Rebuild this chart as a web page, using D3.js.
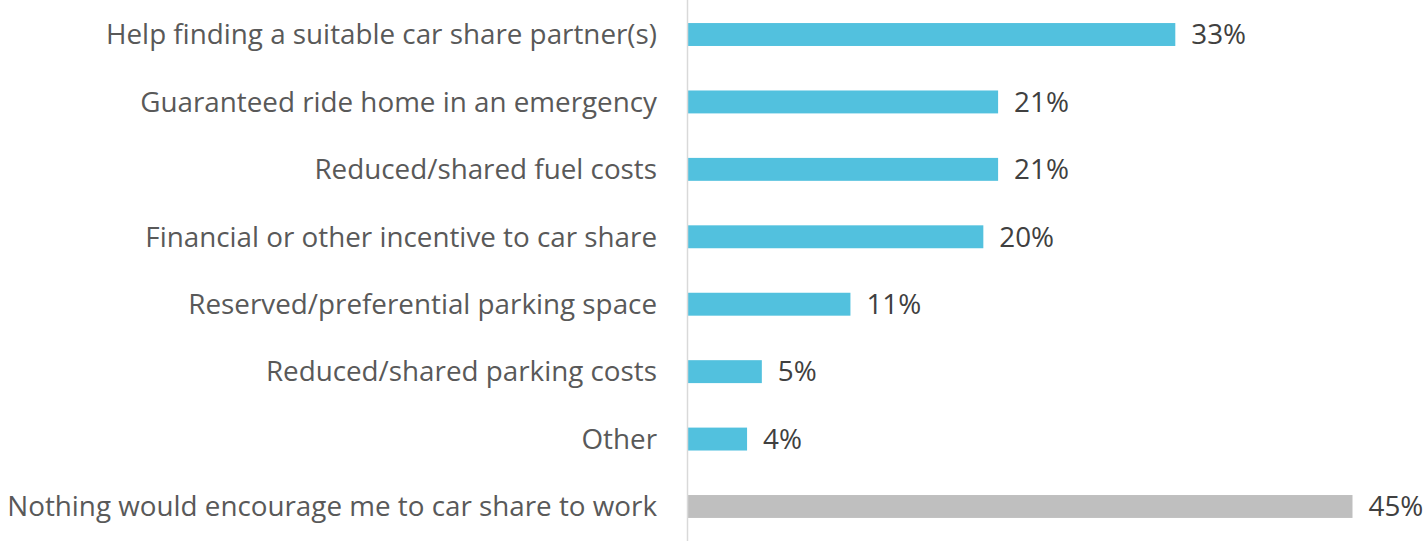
<!DOCTYPE html>
<html><head><meta charset="utf-8">
<script src="https://cdn.jsdelivr.net/npm/d3@7"></script>
<style>body{margin:0;background:#fff}svg{display:block}</style>
</head><body>
<script>
const categories = [
  "Help finding a suitable car share partner(s)",
  "Guaranteed ride home in an emergency",
  "Reduced/shared fuel costs",
  "Financial or other incentive to car share",
  "Reserved/preferential parking space",
  "Reduced/shared parking costs",
  "Other",
  "Nothing would encourage me to car share to work"
];
const values = [33, 21, 21, 20, 11, 5, 4, 45];
const valueLabels = ["33%", "21%", "21%", "20%", "11%", "5%", "4%", "45%"];
const barColors = ["#52C1DE","#52C1DE","#52C1DE","#52C1DE","#52C1DE","#52C1DE","#52C1DE","#BFBFBF"];

const W = 1426, H = 541;
const x0 = 688;
const svg = d3.select("body").append("svg").attr("width", W).attr("height", H);
const x = d3.scaleLinear().domain([0, 45]).range([x0, 1352.5]);
const y = d3.scaleBand().domain(categories).range([0.8, 540.2]).paddingInner(0.66).paddingOuter(0.33);

const font = "'Open Sans', sans-serif";
const fs = 27.8;

svg.append("g").selectAll("rect").data(categories).join("rect")
  .attr("x", x(0)).attr("y", d => y(d))
  .attr("width", (d, i) => x(values[i]) - x(0))
  .attr("height", y.bandwidth())
  .attr("fill", (d, i) => barColors[i]);

svg.append("line").attr("x1", 687.5).attr("x2", 687.5).attr("y1", 0).attr("y2", H)
  .attr("stroke", "#D9D9D9").attr("stroke-width", 1.5);

svg.append("g").selectAll("text").data(categories).join("text")
  .attr("x", 657).attr("y", d => y(d) + y.bandwidth() / 2)
  .attr("dy", "0.35em").attr("text-anchor", "end")
  .attr("font-family", font).attr("font-size", fs).attr("fill", "#595959")
  .text(d => d);

svg.append("g").selectAll("text").data(categories).join("text")
  .attr("x", (d, i) => x(values[i]) + 16).attr("y", d => y(d) + y.bandwidth() / 2)
  .attr("dy", "0.35em")
  .attr("font-family", font).attr("font-size", fs).attr("fill", "#404040")
  .text((d, i) => valueLabels[i]);
</script>
</body></html>
